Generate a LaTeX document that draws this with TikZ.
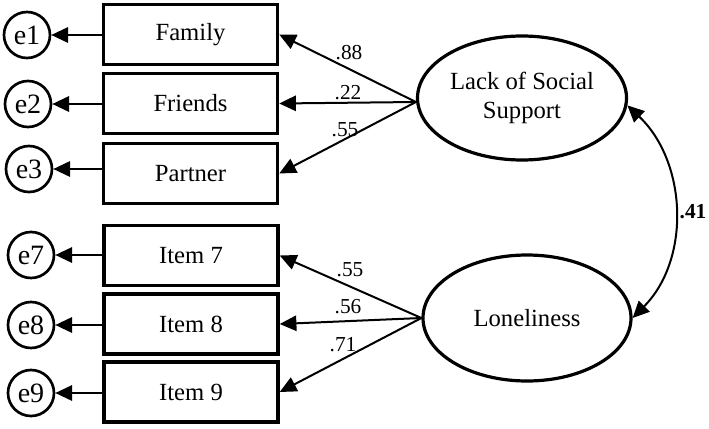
\documentclass[tikz,border=0pt]{standalone}
\usepackage{fontspec}
\setmainfont{Liberation Serif}
\usetikzlibrary{arrows.meta,shapes.geometric}
\begin{document}
\begin{tikzpicture}[x=0.75pt,y=-0.75pt,
  obs/.style={draw,line width=2.6pt,minimum width=130.5pt,minimum height=45pt,inner sep=0pt,font=\fontsize{18.5}{21}\selectfont},
  err/.style={draw,circle,line width=2pt,minimum size=34.5pt,inner sep=0pt,font=\fontsize{21}{22}\selectfont},
  lat/.style={draw,ellipse,line width=2.4pt,minimum width=156.75pt,minimum height=93pt,inner sep=0pt,align=center,font=\fontsize{18.5}{21.5}\selectfont},
  tip/.tip={Triangle[length=12.5pt,width=11.5pt]},
  arr/.style={line width=1.5pt,-tip},
  lbl/.style={font=\fontsize{16}{18}\selectfont,inner sep=0pt}]
\useasboundingbox (0,0) rectangle (709,428);
% observed
\node[obs] (fam) at (190.5,34.5) {Family};
\node[obs] (fri) at (190.5,103.5) {Friends};
\node[obs] (par) at (190.5,173.5) {Partner};
\node[obs] (i7) at (191,255.5) {Item 7};
\node[obs] (i8) at (191,324) {Item 8};
\node[obs] (i9) at (191,392) {Item 9};
% errors
\node[err] (e1) at (27,35) {e1};
\node[err] (e2) at (28,104) {e2};
\node[err] (e3) at (29,169) {e3};
\node[err] (e7) at (31,255) {e7};
\node[err] (e8) at (31,325) {e8};
\node[err] (e9) at (31,393) {e9};
% latent
\node[lat] (lss) at (522,98) {Lack of Social\\Support};
\node[lat,minimum width=156pt,minimum height=94.5pt] (lon) at (527,318) {Loneliness};
% error arrows
\draw[arr] (fam.west |- e1) -- (e1);
\draw[arr] (fri.west |- e2) -- (e2);
\draw[arr] (par.west |- e3) -- (e3);
\draw[arr] (i7.west |- e7) -- (e7);
\draw[arr] (i8.west |- e8) -- (e8);
\draw[arr] (i9.west |- e9) -- (e9);
% loadings
\coordinate (ls) at ([yshift=-3pt]lss.west);
\draw[arr] (ls) -- (fam.east);
\draw[arr] (ls) -- (fri.east);
\draw[arr] (ls) -- (par.east);
\draw[arr] (lon.west) -- (i7.east);
\draw[arr] (lon.west) -- (i8.east);
\draw[arr] (lon.west) -- (i9.east);
\node[lbl] (l1) at (349,53) {.88};
\node[lbl] (l2) at (348,93) {.22};
\node[lbl] (l3) at (345,130) {.55};
\node[lbl] (l7) at (350,270) {.55};
\node[lbl] (l8) at (348,307) {.56};
\node[lbl] (l9) at (343,345) {.71};
% covariance
\draw[line width=1.5pt,tip-tip]
  (lss.-4) .. controls (687,162) and (691,259) .. (lon.east);
\node[lbl,font=\fontsize{16}{18}\selectfont\bfseries] (cov) at (693,212) {.41};
\end{tikzpicture}
\end{document}
